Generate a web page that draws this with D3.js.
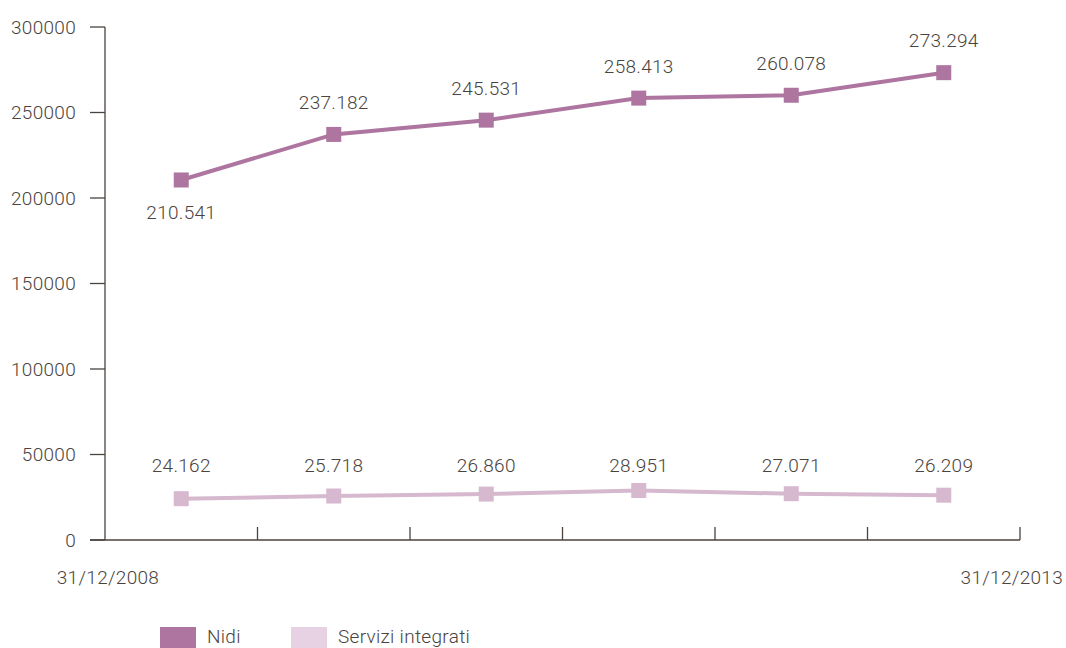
<!DOCTYPE html>
<html><head><meta charset="utf-8">
<script src="https://cdn.jsdelivr.net/npm/d3@7"></script>
<style>
body{margin:0;background:#fff;}
text{font-family:"Roboto","Liberation Sans",sans-serif;fill:#4a433e;font-weight:300;letter-spacing:0.3px;}
</style></head>
<body><svg id="c" width="1066" height="648"></svg>
<script>
const categories = ["2008","2009","2010","2011","2012","2013"];
const nidi = [210541, 237182, 245531, 258413, 260078, 273294];
const servizi = [24162, 25718, 26860, 28951, 27071, 26209];
const nidiLabels = ["210.541","237.182","245.531","258.413","260.078","273.294"];
const serviziLabels = ["24.162","25.718","26.860","28.951","27.071","26.209"];
const yTicks = [0,50000,100000,150000,200000,250000,300000];
const xEndLabels = ["31/12/2008","31/12/2013"];
const seriesNames = ["Nidi","Servizi integrati"];

const svg = d3.select("#c");
const axisColor = "#4a433e";
const cNidi = "#ad759f", cServ = "#d6b9cf", cServLeg = "#e6d2e2";
const fs = 19;

const x = d3.scaleBand().domain(categories).range([105,1020]);
const y = d3.scaleLinear().domain([0,300000]).range([540,27]);

// y axis
svg.append("line").attr("x1",105).attr("x2",105).attr("y1",y(300000)).attr("y2",y(0)).attr("stroke",axisColor).attr("stroke-width",1.3);
yTicks.forEach(t=>{
  svg.append("line").attr("x1",90).attr("x2",105).attr("y1",y(t)).attr("y2",y(t)).attr("stroke",axisColor).attr("stroke-width",1.3);
  svg.append("text").attr("x",76).attr("y",y(t)).attr("dy","0.35em").attr("text-anchor","end").attr("font-size",fs).text(t);
});
// x axis
svg.append("line").attr("x1",90).attr("x2",1020).attr("y1",y(0)).attr("y2",y(0)).attr("stroke",axisColor).attr("stroke-width",1.3);
categories.forEach((c,i)=>{
  const xx = x(c)+x.bandwidth();
  svg.append("line").attr("x1",xx).attr("x2",xx).attr("y1",y(0)-13).attr("y2",y(0)).attr("stroke",axisColor).attr("stroke-width",1.3);
});
svg.append("text").attr("x",108).attr("y",577).attr("dy","0.35em").attr("text-anchor","middle").attr("font-size",fs).text(xEndLabels[0]);
svg.append("text").attr("x",1063).attr("y",577).attr("dy","0.35em").attr("text-anchor","end").attr("font-size",fs).text(xEndLabels[1]);

const cx = c => x(c)+x.bandwidth()/2;
const line = d3.line().x((d,i)=>cx(categories[i])).y(d=>y(d));

function drawSeries(vals, color){
  svg.append("path").datum(vals).attr("d",line).attr("fill","none").attr("stroke",color).attr("stroke-width",4);
  svg.selectAll(null).data(vals).enter().append("rect")
    .attr("x",(d,i)=>cx(categories[i])-7.5).attr("y",d=>y(d)-7.5).attr("width",15).attr("height",15).attr("fill",color);
}
drawSeries(servizi, cServ);
drawSeries(nidi, cNidi);

nidi.forEach((v,i)=>{
  const dy = i===0 ? 32 : -32;
  svg.append("text").attr("x",cx(categories[i])).attr("y",y(v)+dy).attr("dy","0.35em").attr("text-anchor","middle").attr("font-size",fs).text(nidiLabels[i]);
});
servizi.forEach((v,i)=>{
  svg.append("text").attr("x",cx(categories[i])).attr("y",y(50000)+11).attr("dy","0.35em").attr("text-anchor","middle").attr("font-size",fs).text(serviziLabels[i]);
});

// legend
const leg = [{n:seriesNames[0],c:cNidi,x:160},{n:seriesNames[1],c:cServLeg,x:291}];
leg.forEach(l=>{
  svg.append("rect").attr("x",l.x).attr("y",627).attr("width",36).attr("height",21).attr("fill",l.c);
  svg.append("text").attr("x",l.x+47).attr("y",636).attr("dy","0.35em").attr("font-size",fs).text(l.n);
});
</script></body></html>
